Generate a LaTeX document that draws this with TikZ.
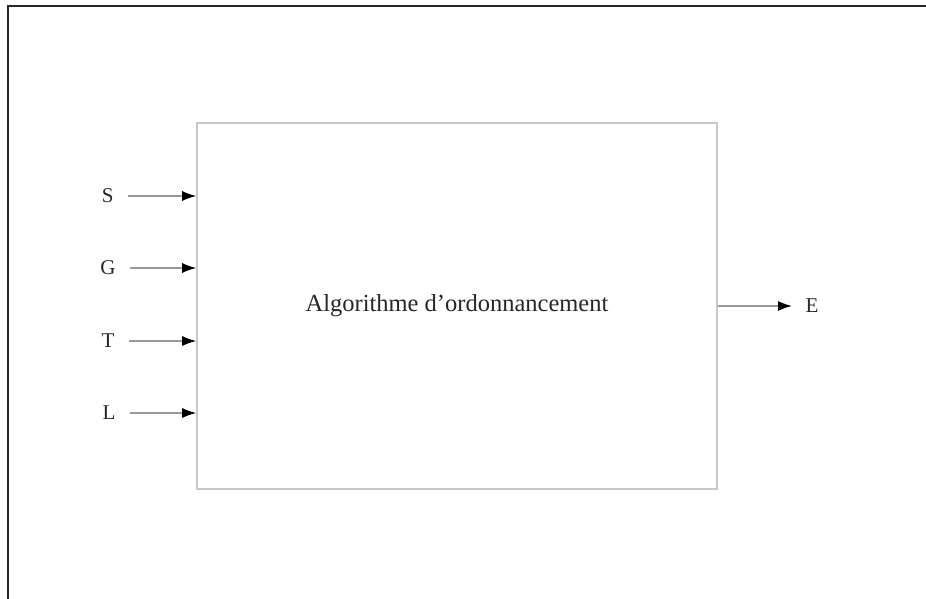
\documentclass[tikz,border=0pt]{standalone}
\usepackage{fontspec}
\setmainfont{Liberation Serif}
\usetikzlibrary{arrows.meta}

\begin{document}
\begin{tikzpicture}[%
x=1pt, y=-1pt,
every node/.style = {font=\fontsize{21}{24}\selectfont, text=black!85},
bloc/.style = {draw=black!22, line width=1.6pt, minimum width=520pt, minimum height=366pt, font=\fontsize{24.5}{28}\selectfont},
fleche/.style = {draw=black!40, line width=1.3pt, -{Latex[length=14pt,width=10pt,color=black]}}]
]
\useasboundingbox (0,0) rectangle (926,599);
% cadre
\draw[black!85, line width=2pt] (7.5,599) -- (7.5,6.5) -- (926,6.5);
\node[bloc] (algo) at (457,306) {Algorithme d'ordonnancement};
% entrees
\node[anchor=east] (s) at (117,196) {S};
\node[anchor=east] (g) at (119,268) {G};
\node[anchor=east] (t) at (118,341) {T};
\node[anchor=east] (l) at (119,413) {L};
\foreach \n in {s,g,t,l}
  \draw[fleche] ([xshift=11pt]\n.east) -- (\n.east -| algo.west);
% sortie
\node[anchor=west] (e) at (802,306) {E};
\draw[fleche] (algo.east |- e.west) -- ([xshift=-10pt]e.west);
\end{tikzpicture}
\end{document}
